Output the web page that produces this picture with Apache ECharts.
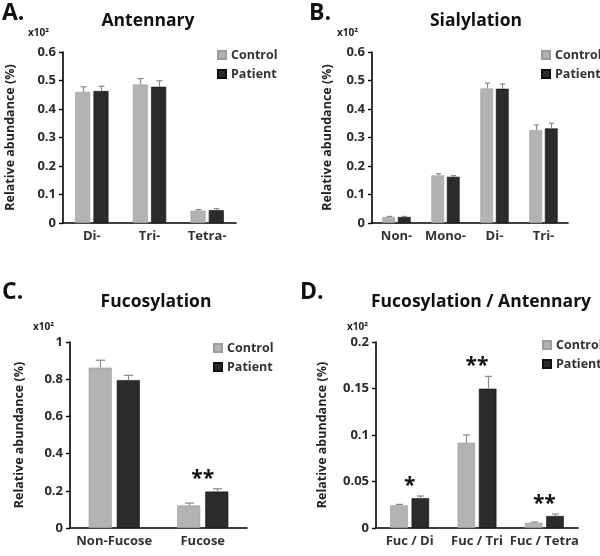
<!DOCTYPE html>
<html><head><meta charset="utf-8">
<script src="https://cdn.jsdelivr.net/npm/echarts@6/dist/echarts.min.js"></script>
<style>html,body{margin:0;padding:0;background:#fff}#c{width:600px;height:556px}</style>
</head><body><div id="c"></div>
<script>
// ---- Data ----
const catA = ['Di-', 'Tri-', 'Tetra-'];
const ctrlA = [0.460, 0.486, 0.043];
const ctrlSdA = [0.018, 0.021, 0.004];
const patA = [0.463, 0.478, 0.045];
const patSdA = [0.017, 0.021, 0.005];
const sigA = ['', '', ''];

const catB = ['Non-', 'Mono-', 'Di-', 'Tri-'];
const ctrlB = [0.021, 0.167, 0.472, 0.326];
const ctrlSdB = [0.002, 0.006, 0.019, 0.018];
const patB = [0.021, 0.162, 0.471, 0.332];
const patSdB = [0.002, 0.004, 0.017, 0.018];
const sigB = ['', '', '', ''];

const catC = ['Non-Fucose', 'Fucose'];
const ctrlC = [0.862, 0.121];
const ctrlSdC = [0.040, 0.013];
const patC = [0.795, 0.196];
const patSdC = [0.026, 0.015];
const sigC = ['', '**'];

const catD = ['Fuc / Di', 'Fuc / Tri', 'Fuc / Tetra'];
const ctrlD = [0.0244, 0.0918, 0.0057];
const ctrlSdD = [0.0010, 0.0082, 0.0008];
const patD = [0.0320, 0.1498, 0.0129];
const patSdD = [0.0024, 0.0132, 0.0022];
const sigD = ['*', '**', '**'];

const ticksA = {min: 0, max: 0.6, interval: 0.1};
const ticksB = {min: 0, max: 0.6, interval: 0.1};
const ticksC = {min: 0, max: 1, interval: 0.2};
const ticksD = {min: 0, max: 0.2, interval: 0.05};

const titles = ['Antennary', 'Sialylation', 'Fucosylation', 'Fucosylation / Antennary'];
const letters = ['A.', 'B.', 'C.', 'D.'];
const seriesNames = ['Control', 'Patient'];
const yName = 'Relative abundance (%)';

// ---- Layout / style ----
const FONT = 'Open Sans';
const CTRL_COLOR = '#b3b3b3';
const PAT_COLOR = '#2b2b2b';
const ERR_COLOR = '#8a8a8a';
const BAR_FRAC = 0.26;
const GAP_FRAC = 0.22;

const panels = [
  {cats: catA, c: ctrlA, cs: ctrlSdA, p: patA, ps: patSdA, sig: sigA, ticks: ticksA,
   grid: {left: 63, top: 52, width: 173, height: 171}, nameGap: 46,
   titleX: 148, titleY: 21, letterXY: [2, 13], expXY: [28, 33], legend: {left: 217, top: 48}},
  {cats: catB, c: ctrlB, cs: ctrlSdB, p: patB, ps: patSdB, sig: sigB, ticks: ticksB,
   grid: {left: 372, top: 52, width: 196, height: 171}, nameGap: 38,
   titleX: 476, titleY: 21, letterXY: [309, 13], expXY: [337, 33], legend: {left: 541, top: 48}},
  {cats: catC, c: ctrlC, cs: ctrlSdC, p: patC, ps: patSdC, sig: sigC, ticks: ticksC,
   grid: {left: 70, top: 342, width: 177, height: 186}, nameGap: 44,
   titleX: 156, titleY: 302, letterXY: [2, 292], expXY: [33, 327], legend: {left: 213, top: 341}},
  {cats: catD, c: ctrlD, cs: ctrlSdD, p: patD, ps: patSdD, sig: sigD, ticks: ticksD,
   grid: {left: 376, top: 342, width: 202, height: 186}, nameGap: 47,
   titleX: 481, titleY: 302, letterXY: [300, 292], expXY: [347, 327], legend: {left: 542, top: 338}}
];

function errRender(sign) {
  return function (params, api) {
    const x = api.value(0), v = api.value(1), e = api.value(2);
    const band = api.size([1, 0])[0];
    const bw = band * BAR_FRAC;
    const off = sign * (bw + bw * GAP_FRAC) / 2;
    const p0 = api.coord([x, v]);
    const p1 = api.coord([x, v + e]);
    const cx = Math.round(p0[0] + off) + 0.5;
    const capW = Math.max(5, bw * 0.4);
    return {type: 'group', children: [
      {type: 'line', shape: {x1: cx, y1: p0[1], x2: cx, y2: p1[1]}, style: {stroke: ERR_COLOR, lineWidth: 1.2}},
      {type: 'line', shape: {x1: cx - capW / 2, y1: p1[1], x2: cx + capW / 2, y2: p1[1]}, style: {stroke: ERR_COLOR, lineWidth: 1.2}}
    ]};
  };
}

function starRender(sigArr) {
  return function (params, api) {
    const i = api.value(0), top = api.value(1);
    const p = api.coord([i, top]);
    return {type: 'text', x: p[0], y: p[1] - 10, style: {
      text: sigArr[i], fill: '#111', fontSize: 21, fontWeight: 'bold', fontFamily: FONT,
      align: 'center', verticalAlign: 'middle'
    }};
  };
}

const grid = [], xAxis = [], yAxis = [], series = [], legend = [], graphic = [];
panels.forEach((pn, k) => {
  grid.push(Object.assign({containLabel: false}, pn.grid));
  xAxis.push({
    type: 'category', gridIndex: k, data: pn.cats,
    axisLine: {lineStyle: {color: '#000', width: 1.6}},
    axisTick: {length: 5, lineStyle: {color: '#000', width: 1.4}},
    axisLabel: {color: '#333', fontSize: 13, fontWeight: 'bold', fontFamily: FONT, margin: 7, interval: 0}
  });
  yAxis.push({
    type: 'value', gridIndex: k, min: pn.ticks.min, max: pn.ticks.max, interval: pn.ticks.interval,
    name: yName, nameLocation: 'middle', nameRotate: 90, nameGap: pn.nameGap,
    nameTextStyle: {color: '#222', fontSize: 12.5, fontWeight: 'bold', fontFamily: FONT},
    axisLine: {show: true, lineStyle: {color: '#000', width: 1.6}},
    axisTick: {show: true, length: 4, lineStyle: {color: '#000', width: 1.4}},
    splitLine: {show: false},
    axisLabel: {color: '#2a2a2a', fontSize: 13, fontWeight: 'bold', fontFamily: FONT, margin: 7}
  });
  series.push({
    name: seriesNames[0], type: 'bar', xAxisIndex: k, yAxisIndex: k, data: pn.c,
    barWidth: (BAR_FRAC * 100) + '%', barGap: (GAP_FRAC * 100) + '%',
    itemStyle: {color: CTRL_COLOR, borderColor: '#9c9c9c', borderWidth: 0.6}
  });
  series.push({
    name: seriesNames[1], type: 'bar', xAxisIndex: k, yAxisIndex: k, data: pn.p,
    barWidth: (BAR_FRAC * 100) + '%', barGap: (GAP_FRAC * 100) + '%',
    itemStyle: {color: PAT_COLOR, borderColor: '#111', borderWidth: 0.6}
  });
  series.push({
    type: 'custom', xAxisIndex: k, yAxisIndex: k, z: 5, silent: true,
    renderItem: errRender(-1),
    data: pn.c.map((v, i) => [i, v, pn.cs[i]])
  });
  series.push({
    type: 'custom', xAxisIndex: k, yAxisIndex: k, z: 5, silent: true,
    renderItem: errRender(1),
    data: pn.p.map((v, i) => [i, v, pn.ps[i]])
  });
  const starData = [];
  pn.sig.forEach((s, i) => {
    if (s) starData.push([i, Math.max(pn.c[i] + pn.cs[i], pn.p[i] + pn.ps[i])]);
  });
  series.push({
    type: 'custom', xAxisIndex: k, yAxisIndex: k, z: 6, silent: true,
    renderItem: starRender(pn.sig), data: starData
  });
  legend.push({
    orient: 'vertical', left: pn.legend.left, top: pn.legend.top,
    data: seriesNames, icon: 'rect', itemWidth: 8, itemHeight: 8, itemGap: 5, padding: 0,
    selectedMode: false,
    textStyle: {color: '#333', fontSize: 12.5, fontWeight: 'bold', fontFamily: FONT, lineHeight: 14}
  });
  graphic.push({type: 'text', x: pn.titleX, y: pn.titleY, style: {
    text: titles[k], fill: '#111', fontSize: 17.5, fontWeight: 'bold', fontFamily: FONT,
    align: 'center', verticalAlign: 'middle'}});
  graphic.push({type: 'text', x: pn.letterXY[0], y: pn.letterXY[1], style: {
    text: letters[k], fill: '#111', fontSize: 23, fontWeight: 'bold', fontFamily: FONT,
    align: 'left', verticalAlign: 'middle'}});
  graphic.push({type: 'text', x: pn.expXY[0], y: pn.expXY[1], style: {
    text: 'x10²', fill: '#222', fontSize: 10, fontWeight: 'bold', fontFamily: FONT,
    align: 'left', verticalAlign: 'middle'}});
});

const chart = echarts.init(document.getElementById('c'), null, {renderer: 'canvas'});
chart.setOption({
  animation: false,
  backgroundColor: '#fff',
  grid, xAxis, yAxis, series, legend, graphic
});
</script>
</body></html>
